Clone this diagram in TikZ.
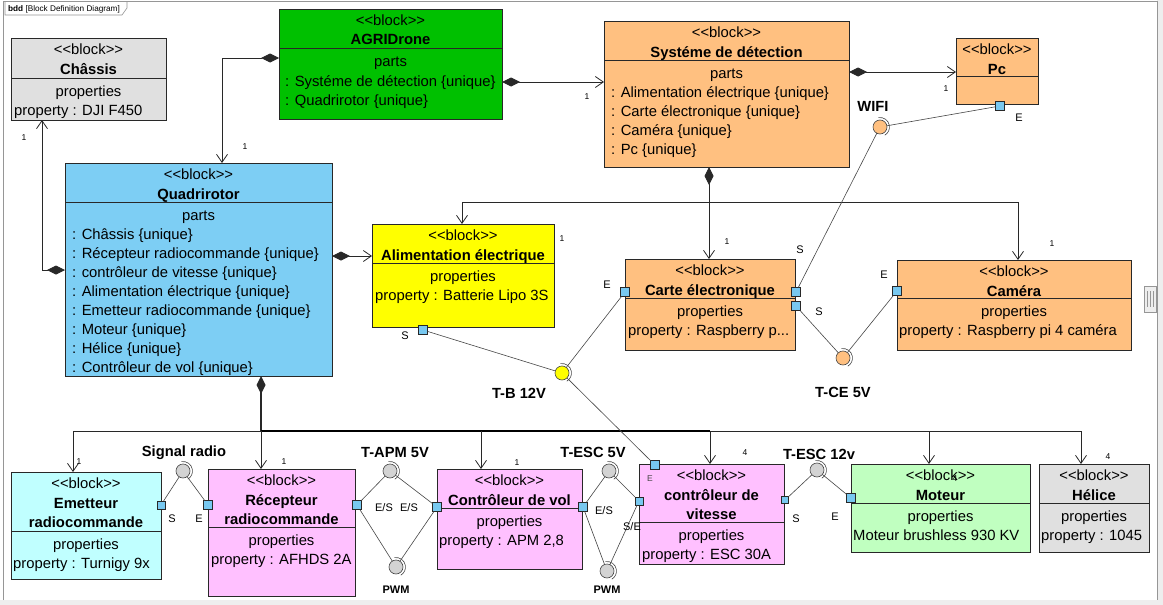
\documentclass[tikz,border=0pt]{standalone}
\usepackage{fontspec}
\setmainfont{Liberation Sans}[Ligatures=TeXOff]
\usetikzlibrary{arrows.meta,calc}
\definecolor{cgray}{RGB}{224,224,224}
\definecolor{cgreen}{RGB}{0,192,0}
\definecolor{corange}{RGB}{255,192,128}
\definecolor{csky}{RGB}{125,206,244}
\definecolor{cyellow}{RGB}{255,255,0}
\definecolor{ccyan}{RGB}{192,255,255}
\definecolor{cpink}{RGB}{255,192,255}
\definecolor{clgreen}{RGB}{192,255,192}
\definecolor{cport}{RGB}{120,200,240}
\definecolor{cball}{RGB}{211,211,211}
\definecolor{cline}{RGB}{70,70,70}
\definecolor{cedge}{RGB}{40,40,40}
\definecolor{uigray}{RGB}{238,238,238}
\definecolor{uiline}{RGB}{150,150,150}
\newcommand\stereo{<{}<block>{}>}
\newcommand\bk[7]{%
  \node[blockbox, fill=#2, minimum width=#5pt, minimum height=#6pt, anchor=north west] (#1) at (#3,#4) {};
  \draw[divline] ($(#1.north west)+(0,#7)$) -- ($(#1.north east)+(0,#7)$);}
\newcommand\bkC[4]{\node[txt,anchor=base] (#1) at (#2,#3+5) {#4};}
\newcommand\bkT[4]{\node[ttl,anchor=base] (#1) at (#2,#3+5) {#4};}
\newcommand\bkI[4]{\node[txt,anchor=base west] (#1) at (#2,#3+5) {#4};}
\newcommand\sock[1]{\draw[wire] (#1.center) ++(-100:9.5) arc[start angle=-100, end angle=60, radius=9.5];}
\begin{document}
\begin{tikzpicture}[x=1pt,y=-1pt,
  blockbox/.style={draw=cedge, line width=0.9pt, inner sep=0pt, outer sep=0pt, rectangle},
  divline/.style={draw=cedge, line width=0.9pt},
  txt/.style={font=\fontsize{14.8}{17}\selectfont, inner sep=0pt},
  ttl/.style={font=\fontsize{14.8}{17}\selectfont\bfseries, inner sep=0pt},
  port/.style={draw=cedge, fill=cport, minimum size=9pt, inner sep=0pt, outer sep=0pt, line width=0.6pt},
  ball/.style={circle, draw=cline, minimum size=14pt, inner sep=0pt, outer sep=0pt, line width=0.6pt},
  wire/.style={draw=cline, line width=0.6pt},
  conn/.style={draw=cedge, line width=0.8pt},
  dia/.style={conn, {Diamond[length=18pt,width=9pt]}-},
  arr/.style={conn, -{Straight Barb[length=8pt,width=11pt]}},
  comp/.style={conn, {Diamond[length=18pt,width=9pt]}-{Straight Barb[length=8pt,width=11pt]}},
  trunk/.style={draw=black, line width=2.2pt},
  mult/.style={font=\fontsize{8.5}{10}\selectfont, inner sep=0pt},
  plbl/.style={font=\fontsize{11}{13}\selectfont, inner sep=0pt},
  ilbl/.style={font=\fontsize{14.7}{17}\selectfont\bfseries, inner sep=0pt},
  slbl/.style={font=\fontsize{11}{13}\selectfont\bfseries, inner sep=0pt}]
\useasboundingbox (0,0) rectangle (1163,605);
\fill[white] (0,0) rectangle (1163,605);
% window frame
\fill[uigray] (1157,0) rectangle (1163,605);
\fill[uigray] (0,600) rectangle (1163,605);
\draw[uiline, line width=0.8pt] (3,600) -- (3,1) -- (1157,1) -- (1157,600);
\node[draw=uiline, fill=uigray, minimum width=12pt, minimum height=26pt, inner sep=0pt] (scroll) at (1150,299) {};
\draw[uiline] (1147,291) -- (1147,307) (1150,291) -- (1150,307) (1153,291) -- (1153,307);
\draw[uiline, fill=white, line width=0.6pt] (5,2) -- (5,15) -- (122,15) -- (127,8) -- (127,2);
\node[anchor=base west, inner sep=0pt, font=\fontsize{8.2}{10}\selectfont] (tab) at (8,12) {\textbf{bdd} [Block Definition Diagram]};

% ---------------- blocks ----------------
\bk{chassis}{cgray}{11}{38}{155}{82}{40}
\bkC{chassis-s}{88.5}{49}{\stereo}
\bkT{chassis-t}{88.5}{69}{Châssis}
\bkC{chassis-h}{88.5}{91}{properties}
\bkI{chassis-1}{14}{110}{property : DJI F450}

\bk{agri}{cgreen}{279}{9}{223}{110}{39}
\bkC{agri-s}{390.5}{20}{\stereo}
\bkT{agri-t}{390.5}{40}{AGRIDrone}
\bkC{agri-h}{390.5}{61}{parts}
\bkI{agri-1}{285}{81}{: Systéme de détection \{unique\}}
\bkI{agri-2}{285}{100}{: Quadrirotor \{unique\}}

\bk{sys}{corange}{604}{21}{245}{146}{39}
\bkC{sys-s}{726.5}{32}{\stereo}
\bkT{sys-t}{726.5}{52}{Systéme de détection}
\bkC{sys-h}{726.5}{73}{parts}
\bkI{sys-1}{611}{92}{: Alimentation électrique \{unique\}}
\bkI{sys-2}{611}{111}{: Carte électronique \{unique\}}
\bkI{sys-3}{611}{130}{: Caméra \{unique\}}
\bkI{sys-4}{611}{149}{: Pc \{unique\}}

\bk{pc}{corange}{956}{38}{82}{66}{38}
\bkC{pc-s}{997}{49}{\stereo}
\bkT{pc-t}{997}{69}{Pc}

\bk{quad}{csky}{65}{163}{267}{213}{39}
\bkC{quad-s}{198.5}{174}{\stereo}
\bkT{quad-t}{198.5}{194}{Quadrirotor}
\bkC{quad-h}{198.5}{215}{parts}
\bkI{quad-1}{72}{234}{: Châssis \{unique\}}
\bkI{quad-2}{72}{253}{: Récepteur radiocommande \{unique\}}
\bkI{quad-3}{72}{272}{: contrôleur de vitesse \{unique\}}
\bkI{quad-4}{72}{291}{: Alimentation électrique \{unique\}}
\bkI{quad-5}{72}{310}{: Emetteur radiocommande \{unique\}}
\bkI{quad-6}{72}{329}{: Moteur \{unique\}}
\bkI{quad-7}{72}{348}{: Hélice \{unique\}}
\bkI{quad-8}{72}{367}{: Contrôleur de vol \{unique\}}

\bk{alim}{cyellow}{372}{224}{182}{103}{39}
\bkC{alim-s}{463}{235}{\stereo}
\bkT{alim-t}{463}{255}{Alimentation électrique}
\bkC{alim-h}{463}{276}{properties}
\bkI{alim-1}{375}{295}{property : Batterie Lipo 3S}

\bk{carte}{corange}{625}{259}{170}{91}{39}
\bkC{carte-s}{710}{270}{\stereo}
\bkT{carte-t}{710}{290}{Carte électronique}
\bkC{carte-h}{710}{311}{properties}
\bkI{carte-1}{628}{330}{property : Raspberry p...}

\bk{cam}{corange}{897}{260}{234}{90}{38}
\bkC{cam-s}{1014}{271}{\stereo}
\bkT{cam-t}{1014}{291}{Caméra}
\bkC{cam-h}{1014}{311}{properties}
\bkI{cam-1}{899}{330}{property : Raspberry pi 4 caméra}

\bk{emet}{ccyan}{11}{472}{150}{107}{59}
\bkC{emet-s}{86}{483}{\stereo}
\bkT{emet-t}{86}{503}{Emetteur}
\bkT{emet-u}{86}{522}{radiocommande}
\bkC{emet-h}{86}{544}{properties}
\bkI{emet-1}{13}{563}{property : Turnigy 9x}

\bk{rec}{cpink}{208}{469}{147}{127}{58}
\bkC{rec-s}{281.5}{480}{\stereo}
\bkT{rec-t}{281.5}{500}{Récepteur}
\bkT{rec-u}{281.5}{519}{radiocommande}
\bkC{rec-h}{281.5}{540}{properties}
\bkI{rec-1}{211}{559}{property : AFHDS 2A}

\bk{vol}{cpink}{437}{469}{145}{100}{39}
\bkC{vol-s}{509.5}{480}{\stereo}
\bkT{vol-t}{509.5}{500}{Contrôleur de vol}
\bkC{vol-h}{509.5}{521}{properties}
\bkI{vol-1}{439}{540}{property : APM 2,8}

\bk{vit}{cpink}{639}{464}{145}{100}{58}
\bkC{vit-s}{711.5}{475}{\stereo}
\bkT{vit-t}{711.5}{495}{contrôleur de}
\bkT{vit-u}{711.5}{514}{vitesse}
\bkC{vit-h}{711.5}{535}{properties}
\bkI{vit-1}{642}{554}{property : ESC 30A}

\bk{mot}{clgreen}{851}{464}{179}{88}{39}
\bkC{mot-s}{940.5}{475}{\stereo}
\bkT{mot-t}{940.5}{495}{Moteur}
\bkC{mot-h}{940.5}{516}{properties}
\bkI{mot-1}{853}{535}{Moteur brushless 930 KV}

\bk{hel}{cgray}{1039}{464}{110}{88}{39}
\bkC{hel-s}{1094}{475}{\stereo}
\bkT{hel-t}{1094}{495}{Hélice}
\bkC{hel-h}{1094}{516}{properties}
\bkI{hel-1}{1041}{535}{property : 1045}

% ---------------- composition connectors ----------------
\coordinate (kAQ) at (222,58);
\draw[comp] (agri.west |- kAQ) -- (kAQ) -- (kAQ |- quad.north);
\coordinate (kAS) at (0,82);
\draw[comp] (agri.east |- kAS) -- (sys.west |- kAS);
\coordinate (kSP) at (0,72);
\draw[comp] (sys.east |- kSP) -- (pc.west |- kSP);
\coordinate (kQC) at (42,270);
\draw[comp] (quad.west |- kQC) -- (kQC) -- (kQC |- chassis.south);
\coordinate (kQA) at (0,256);
\draw[comp] (quad.east |- kQA) -- (alim.west |- kQA);

\coordinate (kS) at (709,202);
\coordinate (kSA) at (462,202);
\coordinate (kSC) at (1018,202);
\draw[dia] (sys.south -| kS) -- (kS);
\draw[arr] (kS) -- (kS |- carte.north);
\draw[arr] (kS) -- (kSA) -- (kSA |- alim.north);
\draw[arr] (kS) -- (kSC) -- (kSC |- cam.north);

\coordinate (kQ) at (261,431);
\coordinate (kQe) at (73,431);
\coordinate (kQv) at (481,431);
\coordinate (kQs) at (710,431);
\coordinate (kQm) at (929,431);
\coordinate (kQh) at (1081,431);
\draw[dia, line width=1.6pt] (quad.south -| kQ) -- (kQ);
\draw[trunk] (kQ) -- (kQs);
\draw[conn] (kQe) -- (kQ) (kQs) -- (kQh);
\draw[arr] (kQe) -- (kQe |- emet.north);
\draw[arr] (kQ) -- (kQ |- rec.north);
\draw[arr] (kQv) -- (kQv |- vol.north);
\draw[arr] (kQs) -- (kQs |- vit.north);
\draw[arr] (kQm) -- (kQm |- mot.north);
\draw[arr] (kQh) -- (kQh |- hel.north);

% multiplicities
\node[mult] (m1) at (245,147) {1};
\node[mult] (m2) at (587,97) {1};
\node[mult] (m3) at (946,89) {1};
\node[mult] (m4) at (24,138) {1};
\node[mult] (m5) at (562,239) {1};
\node[mult] (m6) at (727,242) {1};
\node[mult] (m7) at (1052,244) {1};
\node[mult] (m8) at (79,462) {1};
\node[mult] (m9) at (284,462) {1};
\node[mult] (m10) at (517,463) {1};
\node[mult] (m11) at (745,453) {4};
\node[mult] (m12) at (955,479) {4};
\node[mult] (m13) at (1108,457) {4};

% ---------------- ports ----------------
\node[port] (pcE) at (1000,106) {};
\node[port] (alimS) at (423,330) {};
\node[port] (carteE) at (625,292) {};
\node[port] (carteS1) at (796,292) {};
\node[port] (carteS2) at (796,306) {};
\node[port] (camE) at (897,291) {};
\node[port, minimum size=8pt] (emetS) at (161,505) {};
\node[port] (recE) at (208,505) {};
\node[port] (recR) at (357,505) {};
\node[port] (volL) at (437,507) {};
\node[port] (volR) at (583,507) {};
\node[port] (vitT) at (655,465) {};
\node[port, minimum size=8pt] (vitL) at (639,501) {};
\node[port, minimum size=7pt] (vitR) at (785,500) {};
\node[port] (motE) at (851,498) {};

% ---------------- interfaces ----------------
\node[ball, fill=corange] (wifi) at (880,127) {};
\node[ball, fill=corange] (tce) at (843,358) {};
\node[ball, fill=cyellow] (tb) at (562,373) {};
\node[ball, fill=cball] (sig) at (183,471) {};
\node[ball, fill=cball] (tapm) at (390,471) {};
\node[ball, fill=cball] (pwmA) at (396,567) {};
\node[ball, fill=cball] (tesc5) at (609,471) {};
\node[ball, fill=cball] (pwmB) at (607,571) {};
\node[ball, fill=cball] (tesc12) at (817,470) {};
\sock{wifi}\sock{tce}\sock{tb}\sock{sig}\sock{tapm}\sock{pwmA}\sock{tesc5}\sock{pwmB}\sock{tesc12}

\draw[wire] (carteS1) -- (wifi);
\draw[wire] (wifi) -- (pcE);
\draw[wire] (carteS2) -- (tce);
\draw[wire] (tce) -- (camE);
\draw[wire] (alimS) -- (tb);
\draw[wire] (tb) -- (carteE);
\draw[wire] (tb) -- (vitT);
\draw[wire] (emetS) -- (sig);
\draw[wire] (sig) -- (recE);
\draw[wire] (recR) -- (tapm);
\draw[wire] (recR) -- (pwmA);
\draw[wire] (tapm) -- (volL);
\draw[wire] (pwmA) -- (volL);
\draw[wire] (volR) -- (tesc5);
\draw[wire] (volR) -- (pwmB);
\draw[wire] (tesc5) -- (vitL);
\draw[wire] (pwmB) -- (vitL);
\draw[wire] (vitR) -- (tesc12);
\draw[wire] (tesc12) -- (motE);

% interface labels
\node[ilbl] (l-wifi) at (873,106) {WIFI};
\node[ilbl] (l-tce) at (843,392) {T-CE 5V};
\node[ilbl] (l-tb) at (519,393) {T-B 12V};
\node[ilbl] (l-sig) at (184,453) {Signal radio};
\node[ilbl] (l-tapm) at (395,453) {T-APM 5V};
\node[slbl] (l-pwmA) at (396,590) {PWM};
\node[ilbl] (l-tesc5) at (593,452) {T-ESC 5V};
\node[slbl] (l-pwmB) at (607,590) {PWM};
\node[ilbl] (l-tesc12) at (819,454) {T-ESC 12v};

% port labels
\node[plbl] (p1) at (1019,118) {E};
\node[plbl] (p2) at (405,336) {S};
\node[plbl] (p3) at (607,285) {E};
\node[plbl] (p4) at (800,250) {S};
\node[plbl] (p5) at (819,312) {S};
\node[plbl] (p6) at (884,275) {E};
\node[plbl] (p7) at (172,519) {S};
\node[plbl] (p8) at (199,519) {E};
\node[plbl] (p9) at (384,508) {E/S};
\node[plbl] (p10) at (409,508) {E/S};
\node[plbl] (p11) at (604,511) {E/S};
\node[plbl] (p12) at (632,527) {S/E};
\node[mult, text=cline] (p13) at (650,479) {E};
\node[plbl] (p14) at (796,519) {S};
\node[plbl] (p15) at (835,517) {E};
\end{tikzpicture}
\end{document}
